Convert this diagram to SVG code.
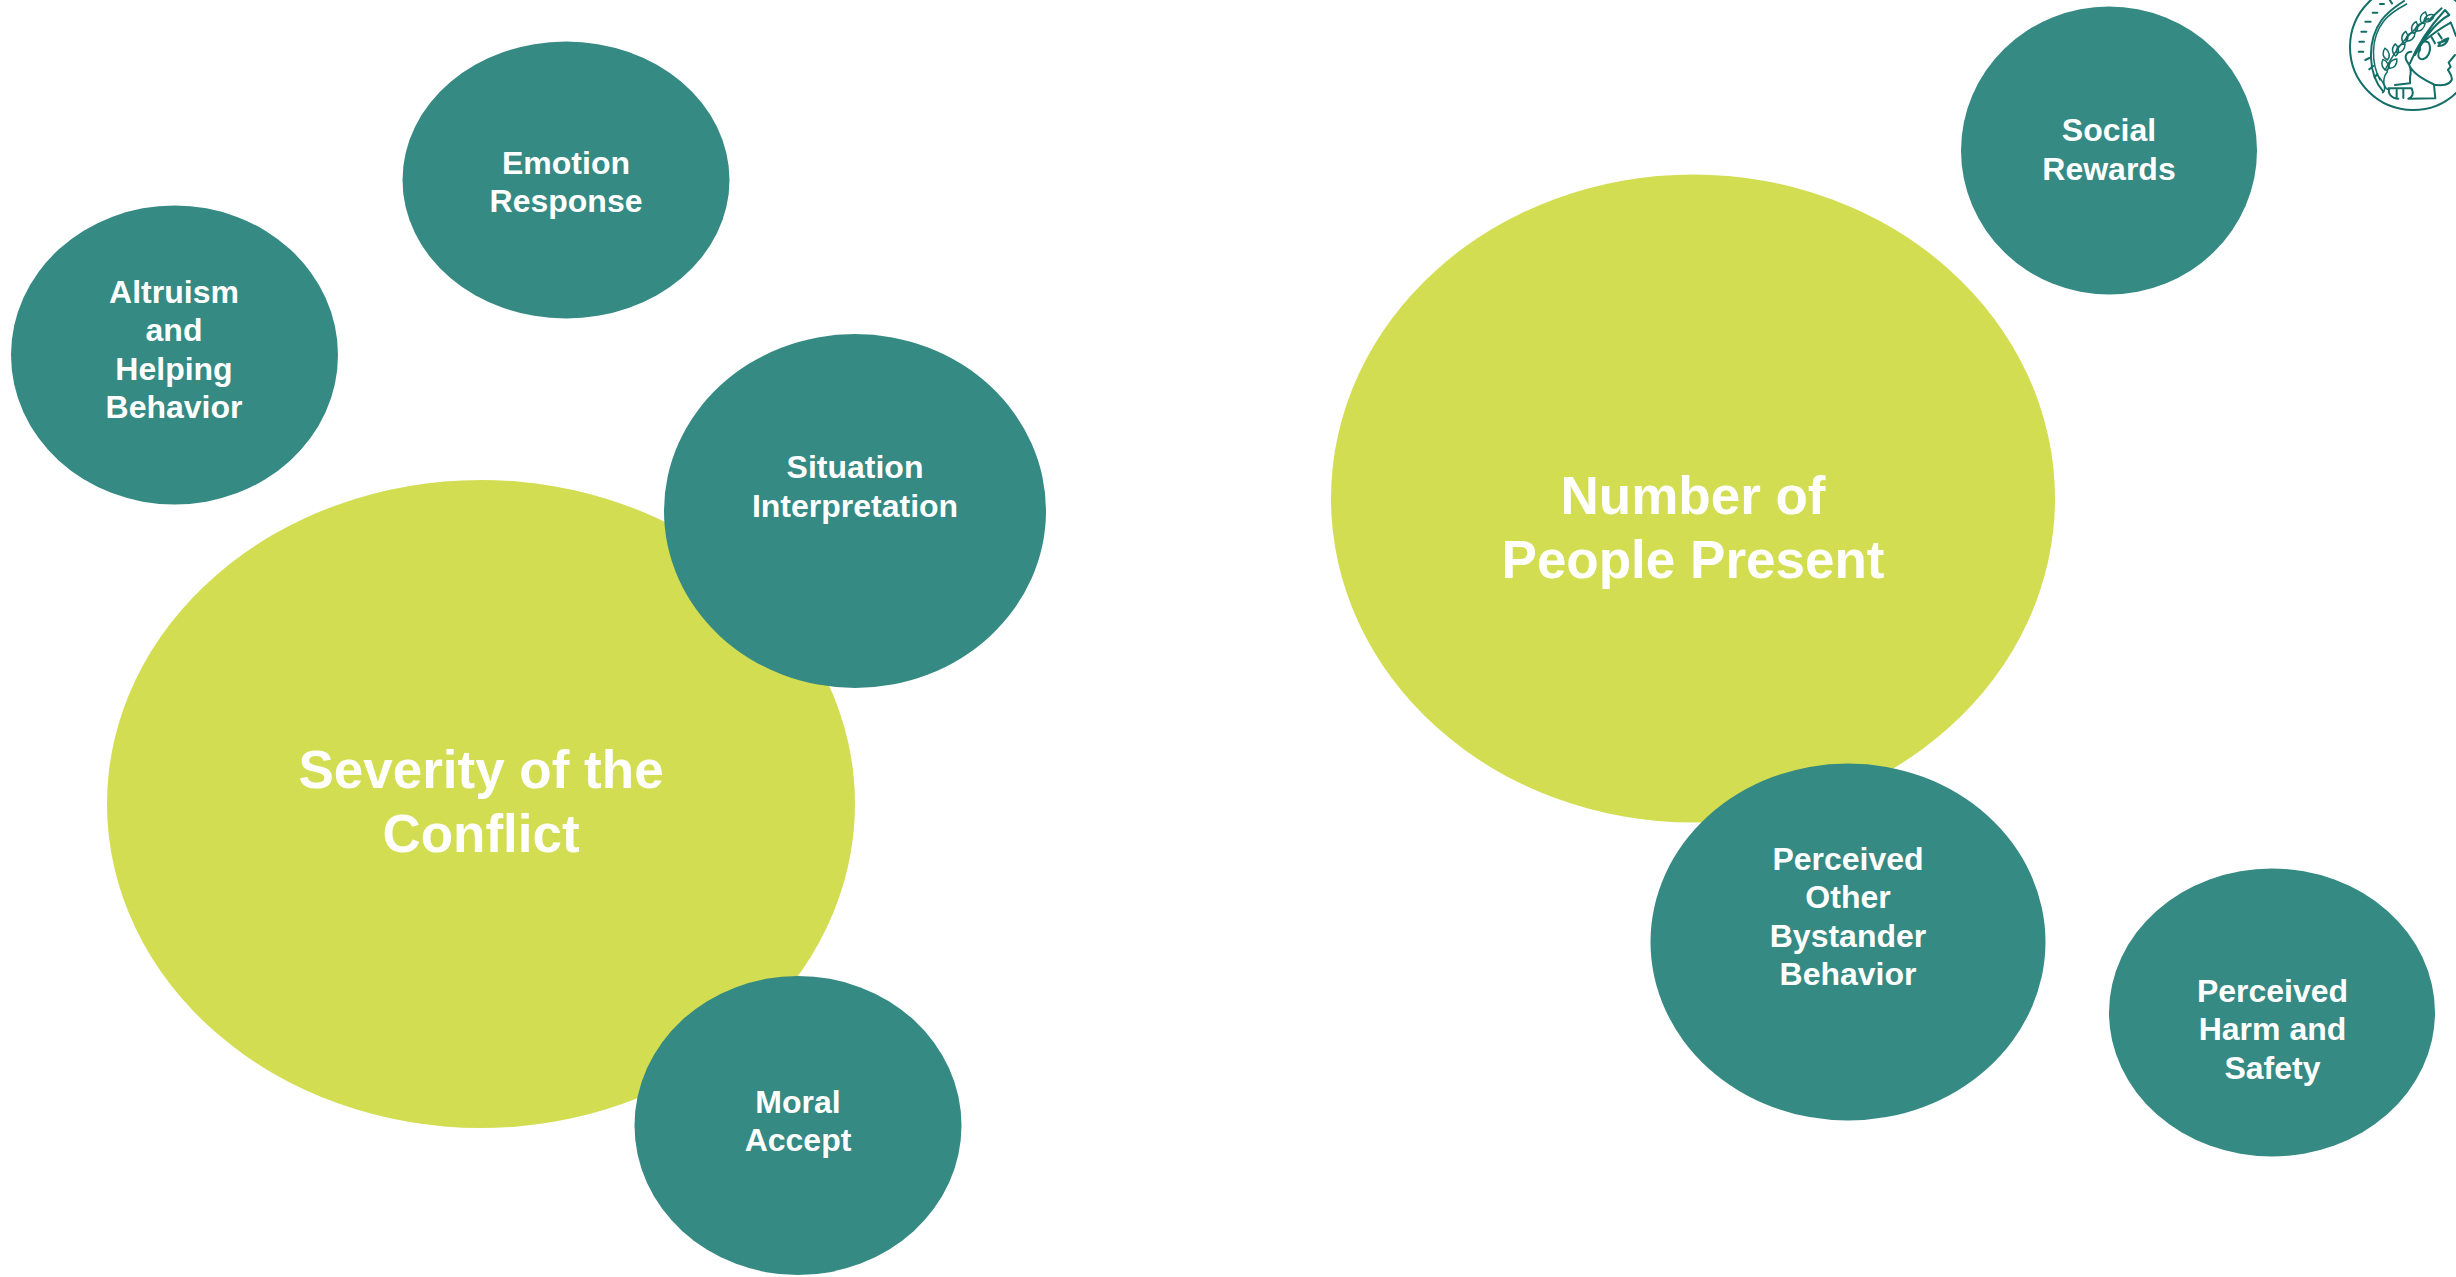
<svg xmlns="http://www.w3.org/2000/svg" width="2456" height="1277" viewBox="0 0 2456 1277">
<defs>
<path id="leaf" d="M0 0C-13 -8 -15 -24 -4 -36C9 -26 11 -10 0 0Z"/>
</defs>
<style>
.t{fill:#358a83}
.l{fill:#d2dd52}
text{font-family:"Liberation Sans",Arial,sans-serif;font-weight:700;fill:#fff;text-anchor:middle}
.s{font-size:32px}
.b{font-size:53px}
.lg{fill:none;stroke:#146e68;stroke-width:6;stroke-linecap:round;stroke-linejoin:round}
.lgt{stroke-width:4.5}
</style>
<rect width="2456" height="1277" fill="#fff"/>
<g id="node-severity"><ellipse class="l" cx="481" cy="804" rx="374" ry="324"/><text class="b" x="481" y="788">Severity of the</text><text class="b" x="481" y="852">Conflict</text></g>
<g id="node-number"><ellipse class="l" cx="1693" cy="498.5" rx="362" ry="324"/><text class="b" x="1693" y="514">Number of</text><text class="b" x="1693" y="578">People Present</text></g>
<g id="node-emotion"><ellipse class="t" cx="566" cy="180" rx="163.5" ry="138.5"/><text class="s" x="566" y="174">Emotion</text><text class="s" x="566" y="212">Response</text></g>
<g id="node-altruism"><ellipse class="t" cx="174.5" cy="355" rx="163.5" ry="149.5"/><text class="s" x="174" y="303">Altruism</text><text class="s" x="174" y="341">and</text><text class="s" x="174" y="380">Helping</text><text class="s" x="174" y="418">Behavior</text></g>
<g id="node-situation"><ellipse class="t" cx="855" cy="511" rx="191" ry="177"/><text class="s" x="855" y="478">Situation</text><text class="s" x="855" y="517">Interpretation</text></g>
<g id="node-moral"><ellipse class="t" cx="798" cy="1125.5" rx="163.5" ry="149.5"/><text class="s" x="798" y="1112.5">Moral</text><text class="s" x="798" y="1151">Accept</text></g>
<g id="node-social"><ellipse class="t" cx="2109" cy="150.5" rx="148" ry="144"/><text class="s" x="2109" y="141">Social</text><text class="s" x="2109" y="180">Rewards</text></g>
<g id="node-other"><ellipse class="t" cx="1848" cy="942" rx="197.5" ry="178.5"/><text class="s" x="1848" y="870">Perceived</text><text class="s" x="1848" y="908">Other</text><text class="s" x="1848" y="947">Bystander</text><text class="s" x="1848" y="985">Behavior</text></g>
<g id="node-harm"><ellipse class="t" cx="2272" cy="1012.5" rx="163" ry="144"/><text class="s" x="2272.5" y="1002">Perceived</text><text class="s" x="2272.5" y="1040">Harm and</text><text class="s" x="2272.5" y="1079">Safety</text></g>
<g id="logo" transform="translate(2300 0) scale(.3333)">
<circle class="lg" cx="339" cy="141" r="189"/>
<path class="lg" d="M250 275C205 225 198 125 245 60C262 38 285 20 312 3"/>
<path class="lg lgt" d="M240 240C214 190 210 115 252 62C268 42 290 28 320 12"/>
<path class="lg" d="M176 155H190M178 125H192M184 95H199M196 65H212M218 38H232M240 12H252M268 -2L276 10M196 180L208 174M208 208L220 198M224 232L232 222"/>
<path class="lg lgt" d="M255 210C290 140 335 90 385 55"/>
<g class="lg lgt">
<use href="#leaf" transform="translate(262 212) rotate(-15)"/><use href="#leaf" transform="translate(262 180) rotate(-5)"/><use href="#leaf" transform="translate(268 205) rotate(45)"/>
<use href="#leaf" transform="translate(287 168) rotate(5)"/><use href="#leaf" transform="translate(290 158) rotate(50)"/>
<use href="#leaf" transform="translate(312 130) rotate(15)"/><use href="#leaf" transform="translate(318 122) rotate(55)"/>
<use href="#leaf" transform="translate(340 100) rotate(20)"/><use href="#leaf" transform="translate(346 92) rotate(60)"/>
<use href="#leaf" transform="translate(365 70) rotate(25)"/><use href="#leaf" transform="translate(372 64) rotate(65)"/>
</g>
<path class="lg" d="M330 190C350 140 385 85 435 30L448 45C410 65 375 110 345 165M385 62L425 25"/>
<path class="lg" d="M370 125C400 100 430 80 452 68M360 150C358 130 372 120 385 127C396 145 388 172 368 178C352 178 352 160 360 150M395 112L405 130M415 100L425 115"/>
<path class="lg" d="M468 108C462 92 458 80 452 68M415 138C422 125 432 118 445 115C442 128 432 138 415 138ZM415 128L440 122"/>
<path class="lg" d="M334 155C318 155 312 172 322 186C332 198 334 215 330 232V250L285 255M330 200C345 225 375 240 405 255C425 256 445 258 455 240C458 228 450 220 444 210L452 200L446 188L465 165"/>
<path class="lg" d="M402 255L406 295L325 296M265 265H335C342 280 338 292 325 296M268 265C262 280 275 296 295 296M290 270V292M310 270V294"/>
<path class="lg lgt" d="M232 225C250 245 262 265 248 278M262 215C246 235 250 258 262 268"/>
</g>
</svg>
